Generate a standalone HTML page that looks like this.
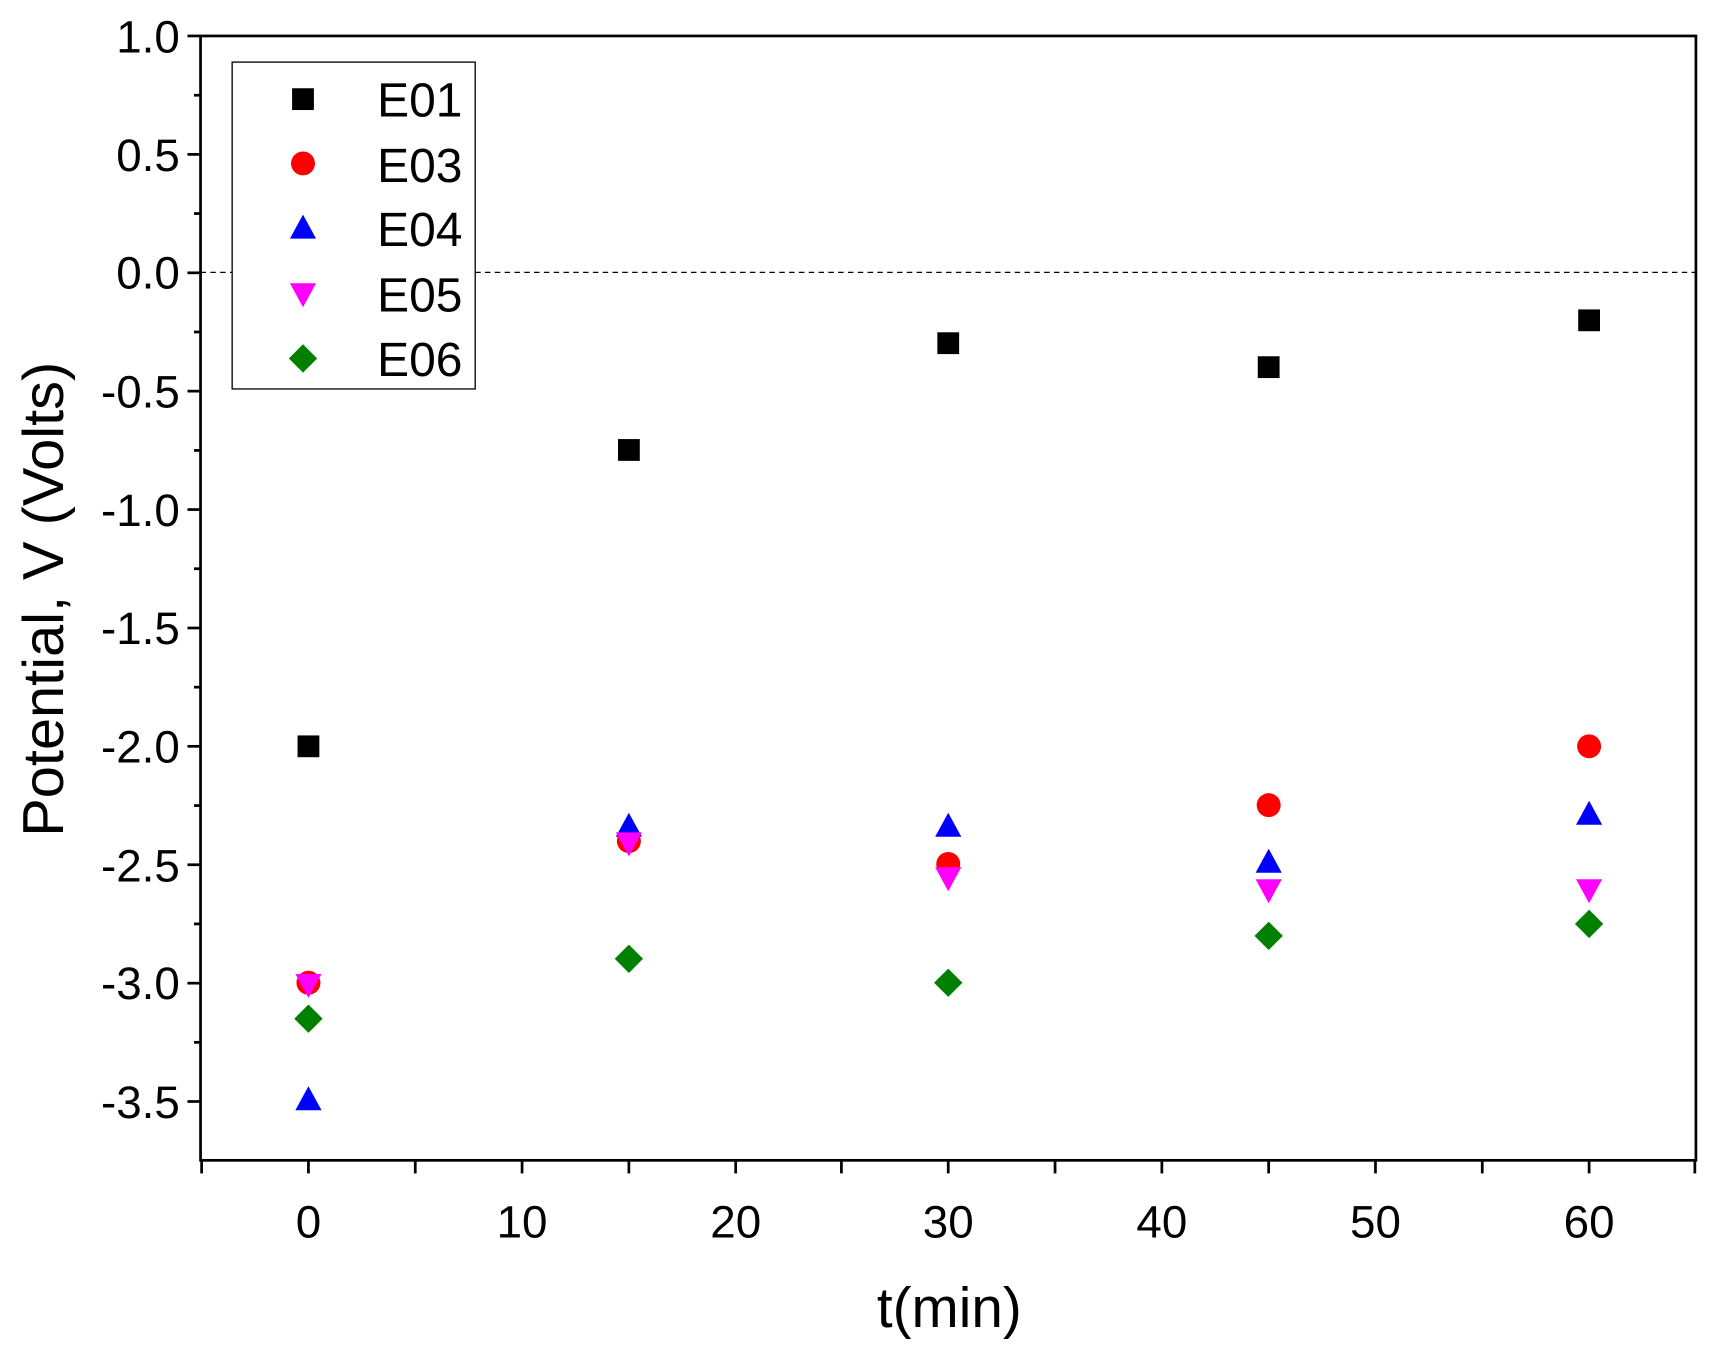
<!DOCTYPE html>
<html><head><style>html,body{margin:0;padding:0;background:#fff}svg{display:block}</style></head>
<body>
<svg width="1709" height="1351" viewBox="0 0 1568 1240" preserveAspectRatio="none" xmlns="http://www.w3.org/2000/svg" font-family="Liberation Sans, sans-serif">
<rect width="1568" height="1240" fill="#fff"/>
<line x1="184" y1="250" x2="1556" y2="250" stroke="#000" stroke-width="1.2" stroke-dasharray="5,4"/>
<rect x="184" y="33" width="1372" height="1032" fill="none" stroke="#000" stroke-width="2.5"/>
<g stroke="#000" stroke-width="2.5">
<line x1="172" y1="33" x2="184" y2="33"/><line x1="178" y1="87.4" x2="184" y2="87.4"/>
<line x1="172" y1="141.7" x2="184" y2="141.7"/><line x1="178" y1="196" x2="184" y2="196"/>
<line x1="172" y1="250.4" x2="184" y2="250.4"/><line x1="178" y1="304.7" x2="184" y2="304.7"/>
<line x1="172" y1="359" x2="184" y2="359"/><line x1="178" y1="413.4" x2="184" y2="413.4"/>
<line x1="172" y1="467.7" x2="184" y2="467.7"/><line x1="178" y1="522" x2="184" y2="522"/>
<line x1="172" y1="576.4" x2="184" y2="576.4"/><line x1="178" y1="630.7" x2="184" y2="630.7"/>
<line x1="172" y1="685" x2="184" y2="685"/><line x1="178" y1="739.4" x2="184" y2="739.4"/>
<line x1="172" y1="793.7" x2="184" y2="793.7"/><line x1="178" y1="848" x2="184" y2="848"/>
<line x1="172" y1="902.4" x2="184" y2="902.4"/><line x1="178" y1="956.7" x2="184" y2="956.7"/>
<line x1="172" y1="1011" x2="184" y2="1011"/>
<line x1="185" y1="1065" x2="185" y2="1077"/>
<line x1="283" y1="1065" x2="283" y2="1077"/><line x1="381" y1="1065" x2="381" y2="1077"/>
<line x1="479" y1="1065" x2="479" y2="1077"/><line x1="577" y1="1065" x2="577" y2="1077"/>
<line x1="675" y1="1065" x2="675" y2="1077"/><line x1="772" y1="1065" x2="772" y2="1077"/>
<line x1="870" y1="1065" x2="870" y2="1077"/><line x1="968" y1="1065" x2="968" y2="1077"/>
<line x1="1066" y1="1065" x2="1066" y2="1077"/><line x1="1164" y1="1065" x2="1164" y2="1077"/>
<line x1="1262" y1="1065" x2="1262" y2="1077"/><line x1="1360" y1="1065" x2="1360" y2="1077"/>
<line x1="1458" y1="1065" x2="1458" y2="1077"/><line x1="1555" y1="1065" x2="1555" y2="1077"/>
</g>
<g font-size="42" text-anchor="end" fill="#000">
<text x="165" y="48">1.0</text><text x="165" y="157">0.5</text><text x="165" y="265">0.0</text>
<text x="165" y="374">-0.5</text><text x="165" y="483">-1.0</text><text x="165" y="591">-1.5</text>
<text x="165" y="700">-2.0</text><text x="165" y="809">-2.5</text><text x="165" y="917">-3.0</text>
<text x="165" y="1026">-3.5</text>
</g>
<g font-size="42" text-anchor="middle" fill="#000">
<text x="283" y="1136">0</text><text x="479" y="1136">10</text><text x="675" y="1136">20</text>
<text x="870" y="1136">30</text><text x="1066" y="1136">40</text><text x="1262" y="1136">50</text><text x="1458" y="1136">60</text>
<text x="871" y="1218" font-size="52">t(min)</text>
<text transform="translate(58,550) rotate(-90)" font-size="53">Potential, V (Volts)</text>
</g>
<defs>
<rect id="sq" x="-10" y="-10" width="20" height="20" fill="#000"/>
<circle id="ci" r="11" fill="#f00"/>
<path id="tu" d="M0,-12 L12,10 L-12,10Z" fill="#00f"/>
<path id="td" d="M0,12 L12,-10 L-12,-10Z" fill="#f0f"/>
<path id="di" d="M0,-13 L13,0 L0,13 L-13,0Z" fill="#008000"/>
</defs>
<use href="#sq" x="283" y="685"/><use href="#sq" x="577" y="413"/><use href="#sq" x="870" y="315"/><use href="#sq" x="1164" y="337"/><use href="#sq" x="1458" y="294"/>
<use href="#ci" x="283" y="902"/><use href="#ci" x="577" y="772"/><use href="#ci" x="870" y="793"/><use href="#ci" x="1164" y="739"/><use href="#ci" x="1458" y="685"/>
<use href="#tu" x="283" y="1009"/><use href="#tu" x="577" y="758"/><use href="#tu" x="870" y="758"/><use href="#tu" x="1164" y="791"/><use href="#tu" x="1458" y="747"/>
<use href="#td" x="283" y="904"/><use href="#td" x="577" y="774"/><use href="#td" x="870" y="806"/><use href="#td" x="1164" y="817"/><use href="#td" x="1458" y="817"/>
<use href="#di" x="283" y="935"/><use href="#di" x="577" y="880"/><use href="#di" x="870" y="902"/><use href="#di" x="1164" y="859"/><use href="#di" x="1458" y="848"/>
<rect x="213" y="57" width="223" height="300" fill="#fff" stroke="#000" stroke-width="1.2"/>
<use href="#sq" x="278" y="91"/><use href="#ci" x="278" y="150"/><use href="#tu" x="278" y="209"/><use href="#td" x="278" y="270"/><use href="#di" x="278" y="329"/>
<g font-size="44" fill="#000">
<text x="346" y="107">E01</text><text x="346" y="167">E03</text><text x="346" y="226">E04</text><text x="346" y="286">E05</text><text x="346" y="345">E06</text>
</g>
</svg>
</body></html>
